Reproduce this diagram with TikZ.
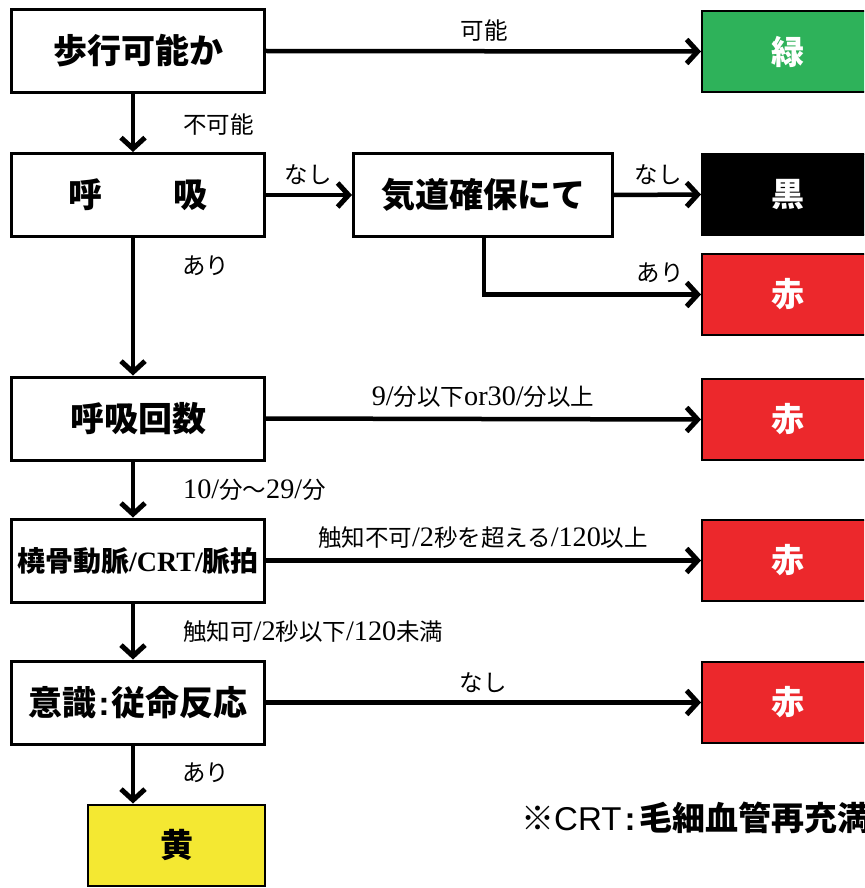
\documentclass[tikz,border=0pt]{standalone}
\usepackage{fontspec}
\setmainfont{Noto Sans CJK JP}
\newfontfamily\lserif[Scale=1.2]{Liberation Serif}
\newfontfamily\bserif{Liberation Serif}
\newfontfamily\lsans{Liberation Sans}
\usetikzlibrary{arrows.meta}
\definecolor{cgreen}{RGB}{46,178,90}
\definecolor{cred}{RGB}{236,40,44}
\definecolor{cyellow}{RGB}{244,232,50}
\begin{document}
\begin{tikzpicture}[x=1pt,y=-1pt,
 box/.style={draw=black,line width=3pt,minimum width=253pt,minimum height=83pt,inner sep=0pt,font=\fontsize{34}{34}\selectfont\bfseries,fill=white},
 cbox/.style={draw=black,line width=2pt,minimum width=172pt,minimum height=81pt,inner sep=0pt,font=\fontsize{33}{33}\selectfont\bfseries,text=white},
 arr/.style={line width=4.5pt,-{Straight Barb[length=11pt,width=24pt,line width=5pt]}},
 lab/.style={font=\fontsize{23.5}{23.5}\selectfont,inner sep=0pt}]
\clip (0,0) rectangle (864,888);
\fill[white] (0,0) rectangle (864,888);
% left column
\node[box] (b1) at (138,51) {歩行可能か};
\node[box] (b2) at (138,195) {呼\hspace{2.1em}吸};
\node[box,minimum width=259pt] (air) at (483,195) {気道確保にて};
\node[box] (b3) at (138,418.5) {呼吸回数};
\node[box,font=\fontsize{28}{28}\selectfont\bfseries] (b4) at (138,560.5) {橈骨動脈{\bserif /CRT/}脈拍};
\node[box] (b5) at (138,702.5) {意識\hspace{0.05em}{\lsans :}\hspace{0.05em}従命反応};
% colored boxes
\node[cbox,fill=cyellow,text=black,minimum width=177pt] (yel) at (176.5,845) {黄};
\node[cbox,fill=cgreen] (grn) at (788,51.5) {緑};
\node[cbox,fill=black] (blk) at (788,194.5) {黒};
\node[cbox,fill=cred] (r1) at (788,294.5) {赤};
\node[cbox,fill=cred] (r2) at (788,419.5) {赤};
\node[cbox,fill=cred] (r3) at (788,560.5) {赤};
\node[cbox,fill=cred] (r4) at (788,702.5) {赤};
% vertical arrows
\draw[arr] ([xshift=-5pt]b1.south) -- ([xshift=-5pt]b2.north);
\draw[arr] ([xshift=-5pt]b2.south) -- ([xshift=-5pt]b3.north);
\draw[arr] ([xshift=-5pt]b3.south) -- ([xshift=-5pt]b4.north);
\draw[arr] ([xshift=-5pt]b4.south) -- ([xshift=-5pt]b5.north);
\coordinate (c5) at ([xshift=-5pt]b5.south);
\draw[arr] (c5) -- (yel.north -| c5);
% horizontal arrows
\draw[arr] (b1.east) -- (grn.west);
\draw[arr] (b2.east) -- (air.west);
\draw[arr] (air.east) -- (blk.west);
\draw[arr] ([xshift=1pt]air.south) |- (r1.west);
\draw[arr] (b3.east) -- (r2.west);
\draw[arr] (b4.east) -- (r3.west);
\draw[arr] (b5.east) -- (r4.west);
% labels
\node[lab] (l1) at (484,31) {可能};
\node[lab,anchor=west] (l2) at (183,125) {不可能};
\node[lab] (l3) at (308,175) {なし};
\node[lab] (l4) at (658,175) {なし};
\node[lab,anchor=west] (l5) at (182,266) {あり};
\node[lab] (l6) at (660,273) {あり};
\node[lab] (l7) at (483,397) {{\lserif 9/}分以下{\lserif or30/}分以上};
\node[lab,anchor=west] (l8) at (183,490) {{\lserif 10/}分～{\lserif 29/}分};
\node[lab] (l9) at (483,538) {触知不可{\lserif /2}秒を超える{\lserif /120}以上};
\node[lab,anchor=west] (l10) at (183,632) {触知可{\lserif /2}秒以下{\lserif /120}未満};
\node[lab] (l11) at (483,683) {なし};
\node[lab,anchor=west] (l12) at (182,773) {あり};
\node[anchor=west,inner sep=0pt,font=\fontsize{33}{33}\selectfont] (note) at (521,818) {※{\lsans CRT}\hspace{0.1em}{\lsans\bfseries :}\hspace{0.1em}\textbf{毛細血管再充満}};
\end{tikzpicture}
\end{document}
